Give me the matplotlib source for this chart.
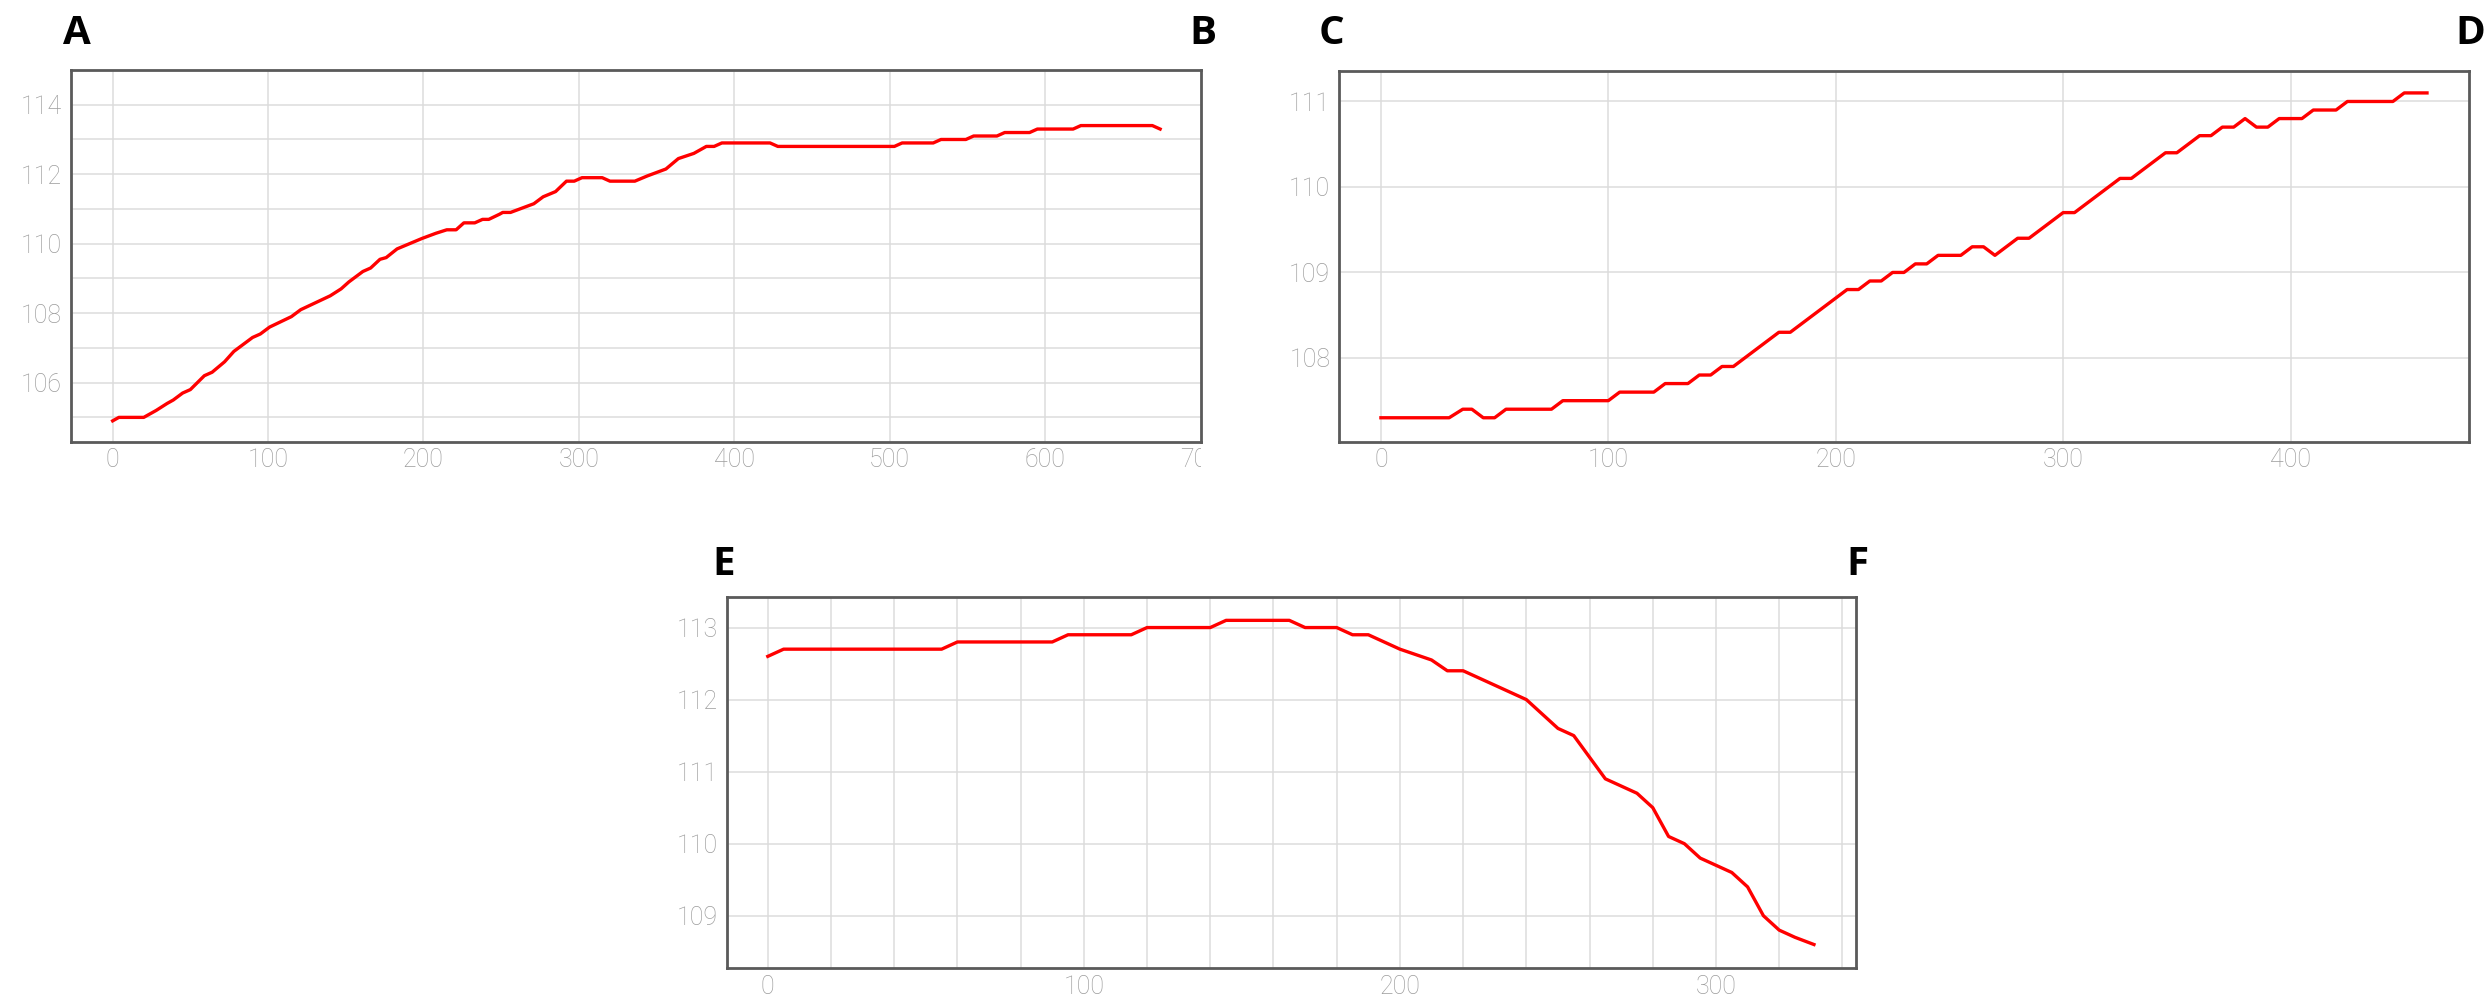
import matplotlib
matplotlib.use("Agg")
import matplotlib.pyplot as plt
from matplotlib.transforms import Bbox, TransformedBbox

# ---------------- data ----------------
a_x = [0, 4, 20, 28, 35, 39, 45, 50, 59, 64, 72, 78, 90, 95, 101, 115, 121, 140, 147, 152,
       161, 166, 172, 176, 183, 191, 199, 208, 215, 221, 226, 233, 238, 242, 249, 251, 256,
       271, 277, 285, 292, 297, 302, 315, 320, 336, 344, 356, 364, 374, 382, 387, 392, 423,
       428, 503, 508, 528, 533, 549, 554, 569, 574, 590, 595, 618, 623, 669, 674]
a_y = [104.9, 105.0, 105.0, 105.2, 105.4, 105.5, 105.7, 105.8, 106.2, 106.3, 106.6, 106.9,
       107.3, 107.4, 107.6, 107.9, 108.1, 108.5, 108.7, 108.9, 109.2, 109.3, 109.55, 109.6,
       109.85, 110.0, 110.15, 110.3, 110.4, 110.4, 110.6, 110.6, 110.7, 110.7, 110.85, 110.9,
       110.9, 111.15, 111.35, 111.5, 111.8, 111.8, 111.9, 111.9, 111.8, 111.8, 111.95, 112.15,
       112.45, 112.6, 112.8, 112.8, 112.9, 112.9, 112.8, 112.8, 112.9, 112.9, 113.0, 113.0,
       113.1, 113.1, 113.2, 113.2, 113.3, 113.3, 113.4, 113.4, 113.3]

c_x = [0, 30, 36, 40, 45, 50, 55, 75, 80, 100, 105, 120, 125, 135, 140, 145, 150, 155, 175,
       180, 205, 210, 215, 220, 225, 230, 235, 240, 245, 255, 260, 265, 270, 280, 285, 300,
       305, 325, 330, 345, 350, 360, 365, 370, 375, 380, 385, 390, 395, 405, 410, 420, 425,
       445, 450, 460]
c_y = [107.3, 107.3, 107.4, 107.4, 107.3, 107.3, 107.4, 107.4, 107.5, 107.5, 107.6, 107.6,
       107.7, 107.7, 107.8, 107.8, 107.9, 107.9, 108.3, 108.3, 108.8, 108.8, 108.9, 108.9,
       109.0, 109.0, 109.1, 109.1, 109.2, 109.2, 109.3, 109.3, 109.2, 109.4, 109.4, 109.7,
       109.7, 110.1, 110.1, 110.4, 110.4, 110.6, 110.6, 110.7, 110.7, 110.8, 110.7, 110.7,
       110.8, 110.8, 110.9, 110.9, 111.0, 111.0, 111.1, 111.1]

e_x = [0, 5, 55, 60, 90, 95, 115, 120, 140, 145, 165, 170, 180, 185, 190, 200, 210, 215, 220,
       230, 240, 245, 250, 255, 260, 265, 270, 275, 280, 285, 290, 295, 300, 305, 310, 315,
       320, 325, 331]
e_y = [112.6, 112.7, 112.7, 112.8, 112.8, 112.9, 112.9, 113.0, 113.0, 113.1, 113.1, 113.0,
       113.0, 112.9, 112.9, 112.7, 112.55, 112.4, 112.4, 112.2, 112.0, 111.8, 111.6, 111.5,
       111.2, 110.9, 110.8, 110.7, 110.5, 110.1, 110.0, 109.8, 109.7, 109.6, 109.4, 109.0,
       108.8, 108.7, 108.6]

a_xticks = [0, 100, 200, 300, 400, 500, 600]
a_yticks = [106, 108, 110, 112, 114]
c_xticks = [0, 100, 200, 300, 400]
c_yticks = [108, 109, 110, 111]
e_xticks = [0, 100, 200, 300]
e_yticks = [109, 110, 111, 112, 113]

# ---------------- figure ----------------
W, H = 2488, 996
fig = plt.figure(figsize=(W / 100, H / 100), dpi=100)

TICK_COLOR = "#9c9c9c"
GRID_COLOR = "#dcdcdc"
SPINE_COLOR = "#5a5a5a"
LINE_COLOR = "#ff0000"
tick_family = ["Roboto", "DejaVu Sans"]


def make_ax(l, t, r, b):
    ax = fig.add_axes([l / W, 1 - b / H, (r - l) / W, (b - t) / H])
    for s in ax.spines.values():
        s.set_color(SPINE_COLOR)
        s.set_linewidth(2.0)
    ax.tick_params(length=0, colors=TICK_COLOR, labelsize=18)
    ax.tick_params(axis="y", pad=6.5)
    ax.tick_params(axis="x", pad=4.5)
    ax.set_axisbelow(True)
    return ax


def style_labels(ax):
    for lab in ax.get_xticklabels() + ax.get_yticklabels():
        lab.set_fontfamily(tick_family)
        lab.set_fontweight("light")


def draw_grid(ax, xs, ys):
    for x in xs:
        ax.axvline(x, color=GRID_COLOR, lw=1.1, zorder=0)
    for y in ys:
        ax.axhline(y, color=GRID_COLOR, lw=1.1, zorder=0)


# Panel A/B
axA = make_ax(70.7, 70, 1201, 441.7)
axA.plot(a_x, a_y, color=LINE_COLOR, lw=2.4, solid_joinstyle="round")
axA.set_xlim(-27, 700.3)
axA.set_ylim(104.3, 115.0)
axA.set_xticks(a_xticks)
axA.set_yticks(a_yticks)
draw_grid(axA, a_xticks, list(range(105, 115)))
style_labels(axA)
# "700" label, clipped at the right edge of the plot as in the original
t700 = axA.text(700, -0.017, "700", transform=axA.get_xaxis_transform(), ha="center",
                va="top", fontsize=18, color=TICK_COLOR, fontfamily=tick_family,
                fontweight="light", clip_on=True)
t700.set_clip_path(None)
t700.set_clip_box(TransformedBbox(Bbox([[-0.2, -0.5], [1.0, 1.0]]), axA.transAxes))

# Panel C/D
axC = make_ax(1339.3, 70.7, 2469.3, 441.7)
axC.plot(c_x, c_y, color=LINE_COLOR, lw=2.4, solid_joinstyle="round")
axC.set_xlim(-18.3, 478.6)
axC.set_ylim(107.02, 111.36)
axC.set_xticks(c_xticks)
axC.set_yticks(c_yticks)
draw_grid(axC, c_xticks, c_yticks)
style_labels(axC)

# Panel E/F
axE = make_ax(726.7, 597.3, 1856, 968.3)
axE.plot(e_x, e_y, color=LINE_COLOR, lw=2.4, solid_joinstyle="round")
axE.set_xlim(-13.0, 344.3)
axE.set_ylim(108.27, 113.42)
axE.set_xticks(e_xticks)
axE.set_yticks(e_yticks)
draw_grid(axE, list(range(0, 341, 20)), e_yticks)
style_labels(axE)

# panel letters
letter_kw = dict(fontsize=29, fontweight="bold", color="black",
                 family=["Open Sans", "DejaVu Sans"], ha="center", va="center")
for txt, x, y in [("A", 77, 33), ("B", 1203, 33), ("C", 1331, 33), ("D", 2470, 33),
                  ("E", 724, 564), ("F", 1857, 564)]:
    fig.text(x / W, 1 - y / H, txt, **letter_kw)

fig.savefig("out.png", dpi=100, facecolor="white")
